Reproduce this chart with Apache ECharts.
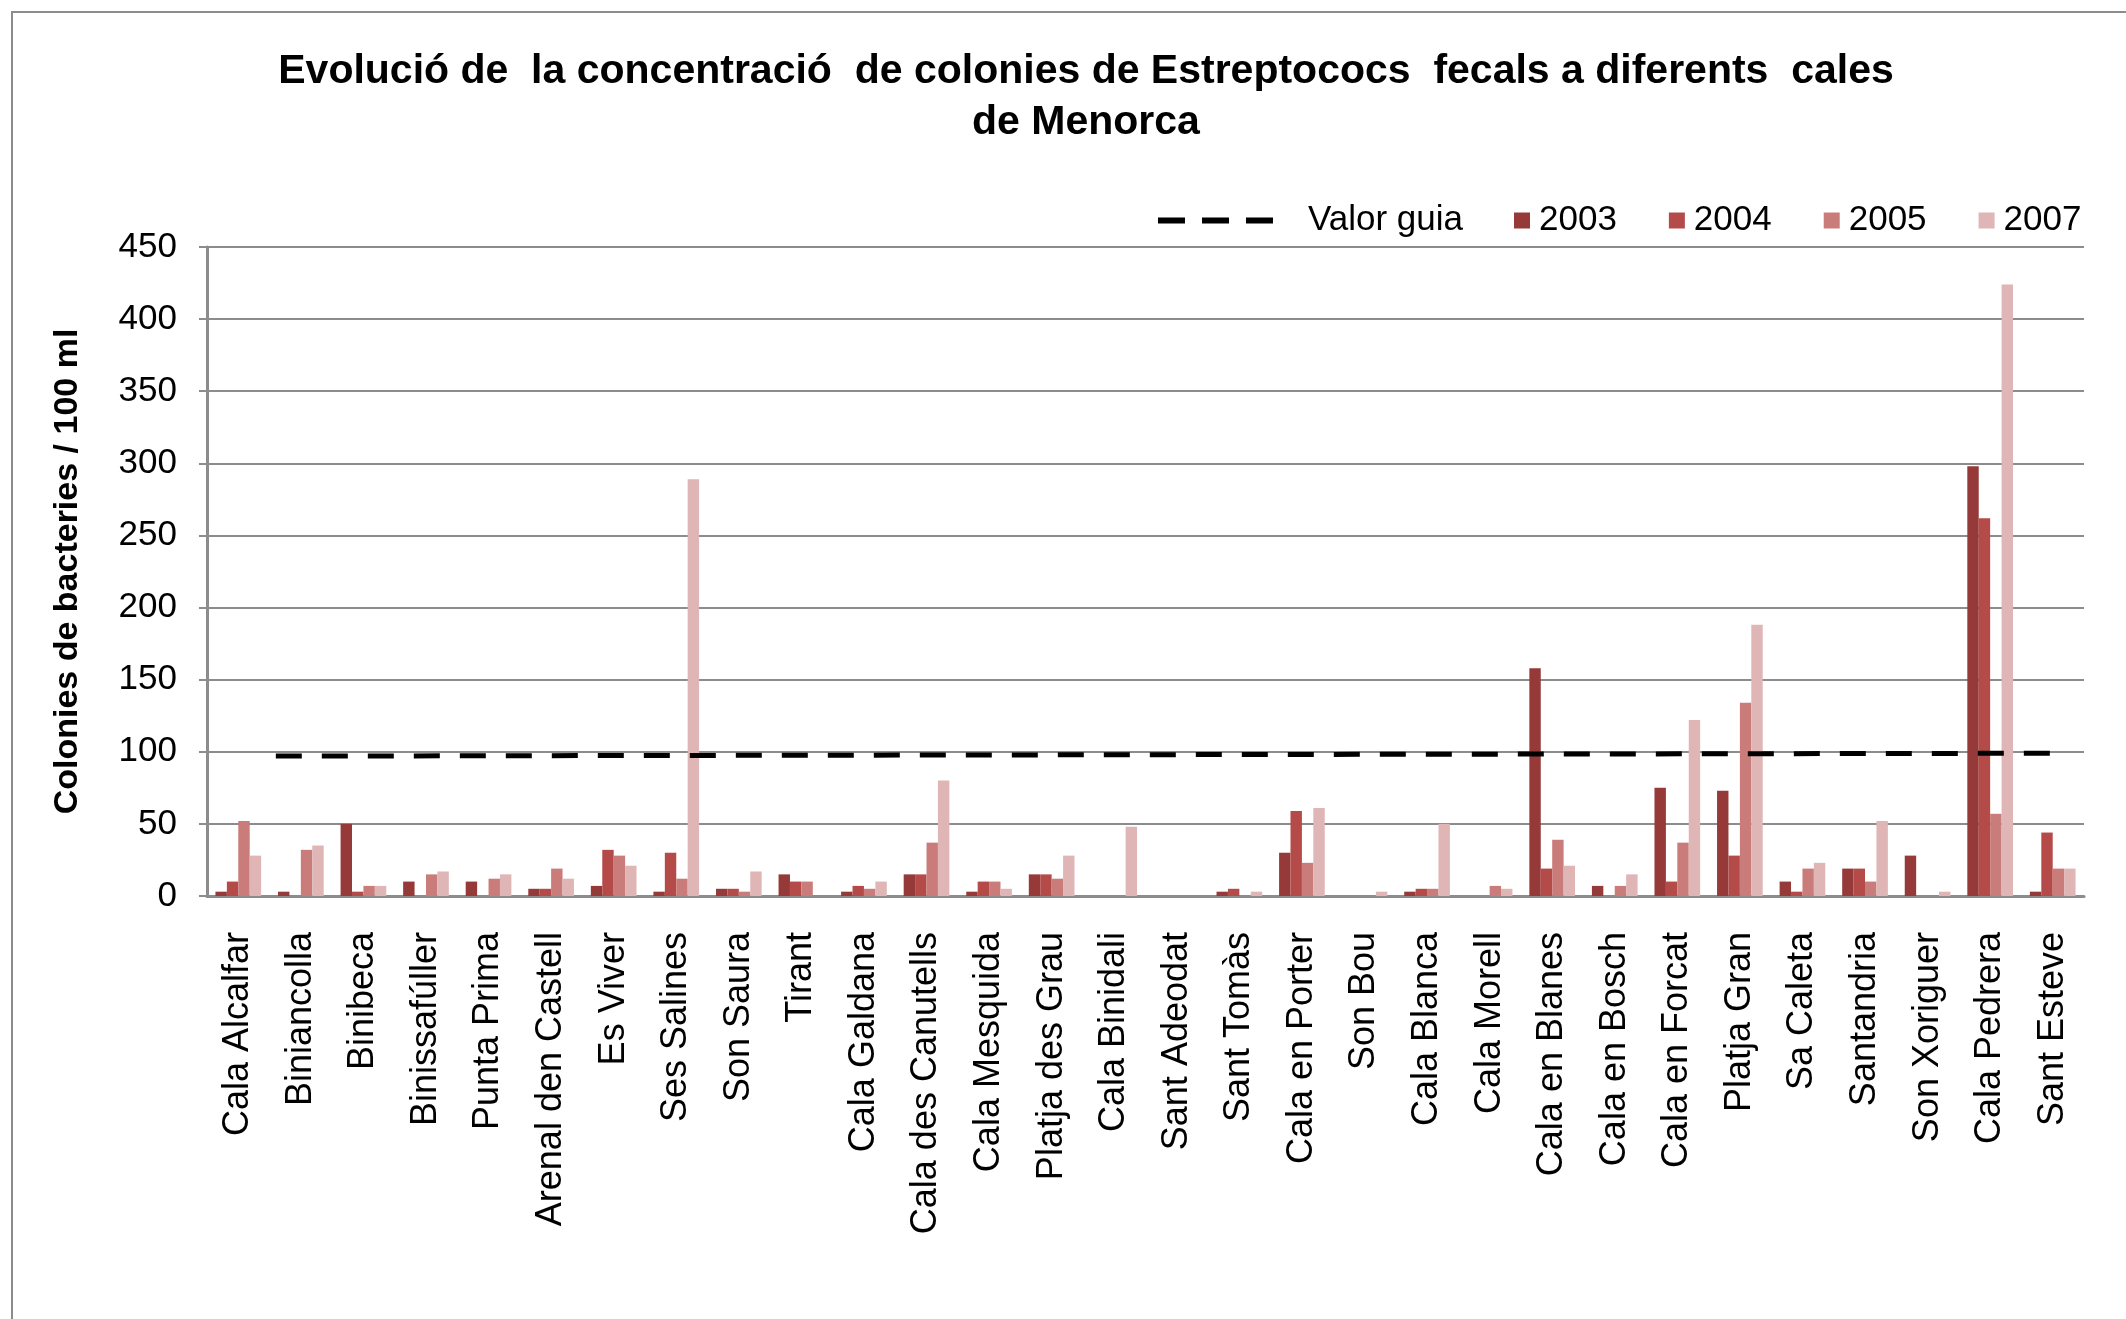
<!DOCTYPE html>
<html lang="ca">

<head>
    <meta charset="UTF-8">
    <title>Estreptococs fecals - Menorca</title>
    <script src="https://cdn.jsdelivr.net/npm/echarts@6/dist/echarts.min.js"></script>
    <style>
        html, body { margin: 0; padding: 0; background: #fff; }
    </style>
</head>

<body>
    <div id="main" style="width: 2126px;height:1319px;"></div>
</body>
<script type="text/javascript">

    // cales (eix de categories)
    var cales = ['Cala Alcalfar', 'Biniancolla', 'Binibeca', 'Binissafúller', 'Punta Prima',
        'Arenal den Castell', 'Es Viver', 'Ses Salines', 'Son Saura', 'Tirant', 'Cala Galdana',
        'Cala des Canutells', 'Cala Mesquida', 'Platja des Grau', 'Cala Binidali', 'Sant Adeodat',
        'Sant Tomàs', 'Cala en Porter', 'Son Bou', 'Cala Blanca', 'Cala Morell', 'Cala en Blanes',
        'Cala en Bosch', 'Cala en Forcat', 'Platja Gran', 'Sa Caleta', 'Santandria', 'Son Xoriguer',
        'Cala Pedrera', 'Sant Esteve'];

    // colonies / 100 ml per any (llegit del gràfic)
    var v2003 = [3, 3, 50, 10, 10, 5, 7, 3, 5, 15, 3, 15, 3, 15, 0, 0, 3, 30, 0, 3, 0, 158, 7, 75, 73, 10, 19, 28, 298, 3];
    var v2004 = [10, 0, 3, 0, 0, 5, 32, 30, 5, 10, 7, 15, 10, 15, 0, 0, 5, 59, 0, 5, 0, 19, 0, 10, 28, 3, 19, 0, 262, 44];
    var v2005 = [52, 32, 7, 15, 12, 19, 28, 12, 3, 10, 5, 37, 10, 12, 0, 0, 0, 23, 0, 5, 7, 39, 7, 37, 134, 19, 10, 0, 57, 19];
    var v2007 = [28, 35, 7, 17, 15, 12, 21, 289, 17, 0, 10, 80, 5, 28, 48, 0, 3, 61, 3, 50, 5, 21, 15, 122, 188, 23, 52, 3, 424, 19];

    var anys = ['2003', '2004', '2005', '2007'];
    var colors = ['#963a39', '#b54b49', '#ca7c7a', '#dfb5b5'];

    // valor guia (posició sobre l'eix de categories, valor)
    var guiaX = [1.1, 29.7];
    var guiaY = [97, 99];

    // eix y
    var yMin = 0, yMax = 450, yStep = 50;

    var font = '"Liberation Sans", Arial, sans-serif';
    var gray = '#8c8c8c';

    var myChart = echarts.init(document.getElementById('main'));

    var barData = [v2003, v2004, v2005, v2007];
    var barSeries = anys.map(function (a, i) {
        return {
            name: a,
            type: 'bar',
            data: barData[i],
            barGap: '0%',
            barCategoryGap: '27%',
            itemStyle: { color: colors[i] },
            z: 2
        };
    });

    var guiaData = guiaX.map(function (x, i) { return [x, guiaY[i]]; });

    option = {
        animation: false,
        backgroundColor: '#fff',
        title: {
            text: 'Evolució de  la concentració  de colonies de Estreptococs  fecals a diferents  cales\nde Menorca',
            left: 1081,
            top: 41,
            textAlign: 'center',
            textStyle: {
                fontFamily: font,
                fontSize: 41,
                fontWeight: 'bold',
                color: '#000',
                lineHeight: 51
            }
        },
        legend: [{
            // icona de tres guions, com a l'original
            data: [{
                name: 'Valor guia',
                icon: 'path://M0,0H27V6H0Z M44,0H71V6H44Z M88,0H115V6H88Z'
            }],
            left: 1153,
            top: 198,
            itemWidth: 115,
            itemHeight: 6,
            textStyle: { fontFamily: font, fontSize: 35, color: '#000', padding: [0, 0, 0, 30] }
        }, {
            data: anys,
            left: 1509,
            top: 198,
            itemWidth: 16,
            itemHeight: 16,
            itemGap: 52,
            icon: 'rect',
            textStyle: { fontFamily: font, fontSize: 35, color: '#000', padding: [0, 0, 0, 4] }
        }],
        grid: {
            left: 207,
            right: 42,
            top: 247,
            bottom: 423
        },
        xAxis: [{
            type: 'category',
            data: cales,
            axisLine: { lineStyle: { color: gray, width: 3 } },
            axisTick: { show: false },
            axisLabel: {
                interval: 0,
                rotate: 90,
                margin: 36,
                fontFamily: font,
                fontSize: 36,
                color: '#000'
            }
        }, {
            type: 'value',
            min: 0,
            max: cales.length,
            show: false
        }],
        yAxis: {
            type: 'value',
            min: yMin,
            max: yMax,
            interval: yStep,
            name: 'Colonies de bacteries / 100 ml',
            nameLocation: 'middle',
            nameGap: 122,
            nameRotate: 90,
            nameTextStyle: { fontFamily: font, fontSize: 34, fontWeight: 'bold', color: '#000' },
            axisLine: { show: true, lineStyle: { color: gray, width: 3 } },
            axisTick: { show: true, length: 8, lineStyle: { color: gray, width: 2 } },
            axisLabel: { margin: 30, fontFamily: font, fontSize: 35, color: '#000' },
            splitLine: { lineStyle: { color: gray, width: 2 } }
        },
        graphic: [{
            type: 'rect',
            shape: { x: 12, y: 12, width: 2200, height: 1400 },
            style: { fill: 'none', stroke: gray, lineWidth: 2 },
            silent: true
        }],
        series: [{
            name: 'Valor guia',
            type: 'line',
            xAxisIndex: 1,
            data: guiaData,
            symbol: 'none',
            lineStyle: { color: '#000', width: 5, type: [26, 20] },
            itemStyle: { color: '#000' },
            z: 5
        }].concat(barSeries)
    };

    myChart.setOption(option);

</script>

</html>
